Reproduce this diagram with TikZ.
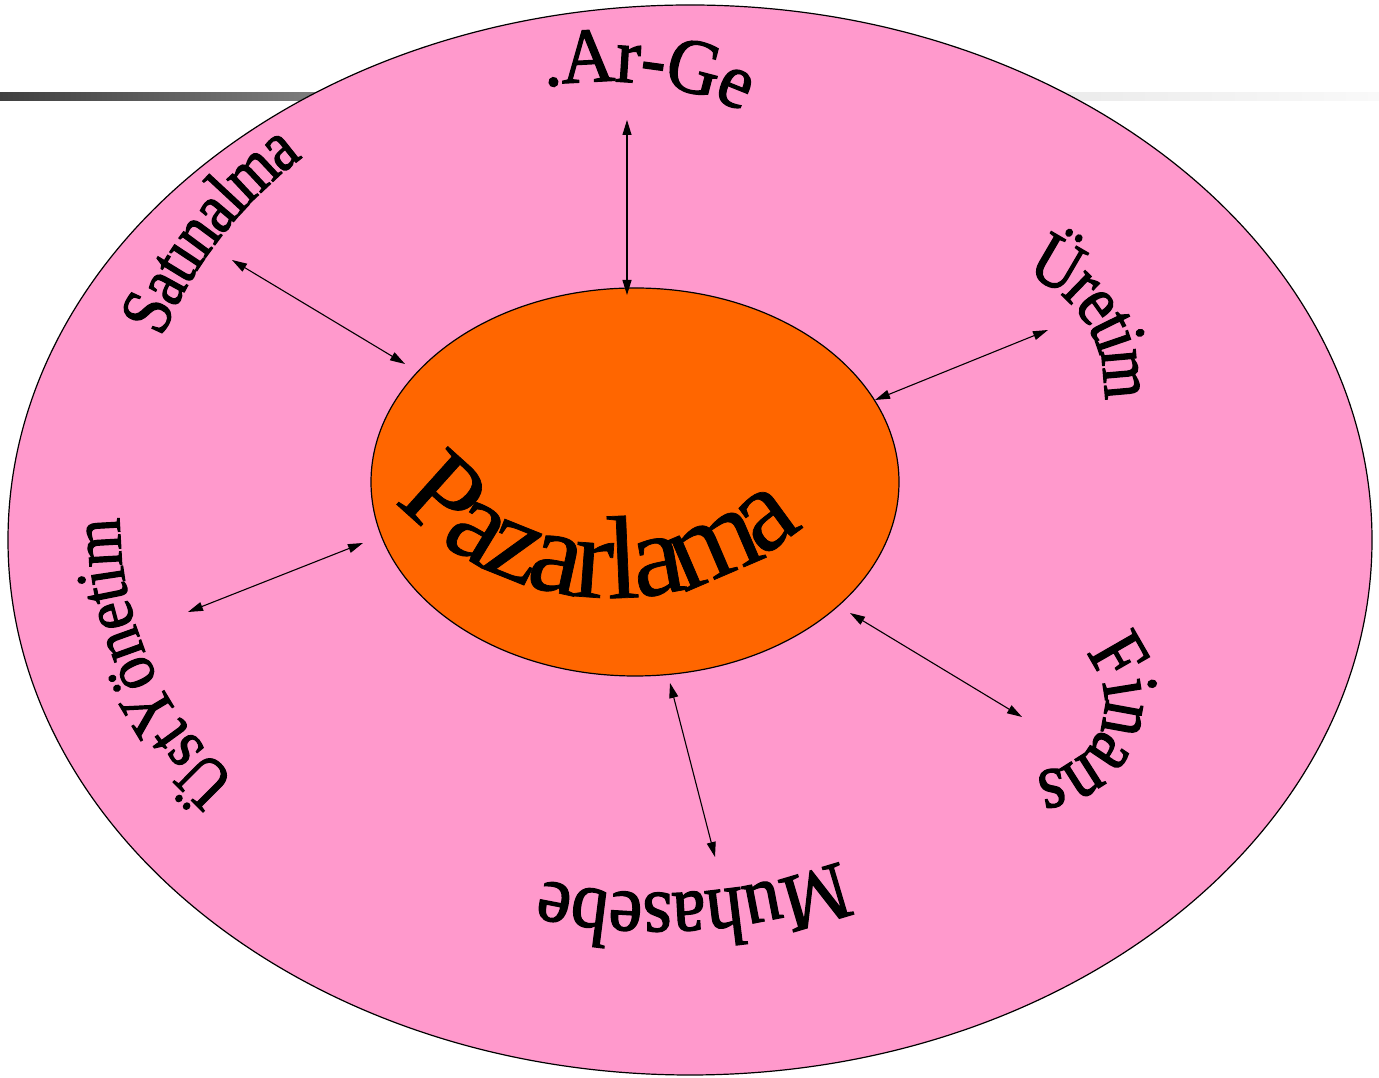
\documentclass[tikz,border=0pt]{standalone}
\usepackage{fontspec}
\setmainfont{Liberation Serif}
\newfontfamily\warpA[FakeStretch=0.95,FakeBold=1.6]{Liberation Serif}
\newfontfamily\warpB[FakeStretch=0.84,FakeBold=1.6]{Liberation Serif}
\newfontfamily\warpC[FakeStretch=0.86,FakeBold=1.6]{Liberation Serif}
\newfontfamily\warpD[FakeStretch=0.85,FakeBold=1.6]{Liberation Serif}
\newfontfamily\warpE[FakeStretch=0.92,FakeBold=1.6]{Liberation Serif}
\newfontfamily\warpF[FakeStretch=0.89,FakeBold=1.6]{Liberation Serif}
\newfontfamily\warpP[FakeBold=0.6]{Liberation Serif}
\usetikzlibrary{shapes.geometric,decorations.text,arrows.meta}
\definecolor{pinkfill}{HTML}{FF99CC}
\definecolor{orangefill}{HTML}{FF6600}
\definecolor{bardark}{HTML}{404040}
\definecolor{barmid}{HTML}{8D8D8D}
\definecolor{barlight}{HTML}{E8E8E8}
\definecolor{barpale}{HTML}{F9F9F9}
\begin{document}
\begin{tikzpicture}[x=1pt,y=1pt,
  ring/.style={ellipse, draw=black, line width=1.2pt, inner sep=0pt},
  link/.style={draw=black, line width=1.1pt, {Triangle[length=15pt,width=9pt]}-{Triangle[length=15pt,width=9pt]}}
]
\useasboundingbox (0,0) rectangle (1379,1078);
\fill[white] (0,0) rectangle (1379,1078);
% gradient bar behind the ellipse
\shade[left color=bardark, right color=barmid] (0,977) rectangle (400,985);
\shade[left color=barlight, right color=barpale] (1000,977) rectangle (1379,985);
% ellipses
\node[ring, fill=pinkfill, minimum width=1364pt, minimum height=1070pt] (outer) at (690,538) {};
\node[ring, fill=orangefill, minimum width=528pt, minimum height=388pt] (core) at (635,596) {};
% connector end points
\coordinate (argeOut) at (627,958);
\coordinate (argeIn) at (627,783);
\coordinate (satOut) at (232,818);
\coordinate (satIn) at (405,714);
\coordinate (uretOut) at (1048,748);
\coordinate (uretIn) at (875,678);
\coordinate (finOut) at (1022,361);
\coordinate (finIn) at (850,465);
\coordinate (muhOut) at (715,221);
\coordinate (muhIn) at (670,395);
\coordinate (ustOut) at (188,466);
\coordinate (ustIn) at (363,535);
\draw[link] (argeOut) -- (argeIn);
\draw[link] (satOut) -- (satIn);
\draw[link] (uretOut) -- (uretIn);
\draw[link] (finIn) -- (finOut);
\draw[link] (muhIn) -- (muhOut);
\draw[link] (ustIn) -- (ustOut);
% curved labels
\path[decorate, decoration={text along path, text align=center, raise=-9.4pt,
  text={|\warpA\fontsize{78}{84}\selectfont|.Ar-Ge}}]
  (606,671) ++(113:335) arc[start angle=113, end angle=53, radius=335];
\path[decorate, decoration={text along path, text align=center, raise=-22.5pt,
  text={|\warpB\fontsize{72}{78}\selectfont|Satınalma}}]
  (561,574) ++(167:454.8) arc[start angle=167, end angle=117, radius=454.8];
\path[decorate, decoration={text along path, text align=center, raise=-21pt,
  text={|\warpC\fontsize{74}{80}\selectfont|Üretim}}]
  (986,692) ++(77:138.9) arc[start angle=77, end angle=-13, radius=138.9];
\path[decorate, decoration={text along path, text align=center, raise=-9.5pt,
  text={|\warpD\fontsize{80}{86}\selectfont|Finans}}]
  (1036.5,375.2) ++(57.2:78) arc[start angle=57.2, end angle=-102.8, radius=78];
\path[decorate, decoration={text along path, text align=center, raise=-14pt,
  text={|\warpE\fontsize{82}{88}\selectfont|Muhasebe}}]
  (658,713) ++(-61.3:542.4) arc[start angle=-61.3, end angle=-111.3, radius=542.4];
\path[decorate, decoration={text along path, text align=center, raise=-11pt,
  text={|\warpF\fontsize{70}{76}\selectfont|ÜstYönetim}}]
  (462.5,555.7) ++(-121:353.5) arc[start angle=-121, end angle=-191, radius=353.5];
\path[decorate, decoration={text along path, text align=center, raise=27pt,
  text={|\warpP\fontsize{118}{126}\selectfont|Pazarlama}}]
  (612,770) ++(-153.5:317) arc[start angle=-153.5, end angle=-33.5, radius=317];
\end{tikzpicture}
\end{document}
